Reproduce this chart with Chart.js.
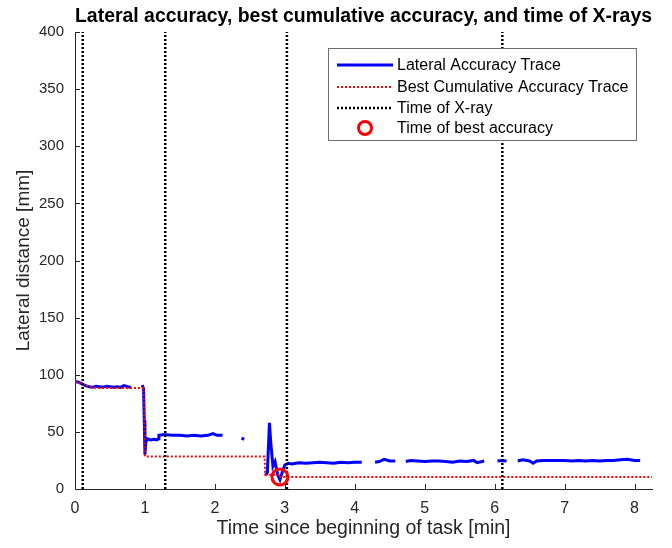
<!DOCTYPE html>
<html>
<head>
<meta charset="utf-8">
<title>Lateral accuracy</title>
<script src="https://cdn.jsdelivr.net/npm/chart.js@4.4.1/dist/chart.umd.min.js"></script>
<style>
    html, body { margin: 0; padding: 0; background: #fff; }
    #wrap { width: 672px; height: 548px; }
</style>
</head>
<body>
<div id="wrap"><canvas id="accChart" width="672" height="548"></canvas></div>
<script>
// Lateral accuracy trace (null = no data / gap)
const traceT = [
    0, 0.05, 0.1, 0.15, 0.2, 0.25, 0.3, 0.35, 0.4, 0.45, 0.5, 0.55, 0.6, 0.65, 0.7, 0.75, 0.8, 0.88,
    0.96, 0.98, 0.99, 1.0, 1.01, 1.03, 1.08, 1.13, 1.17, 1.19, 1.2, 1.25, 1.3, 1.4, 1.5, 1.6, 1.7, 1.8, 1.9, 1.97, 2.03, 2.11, 2.2,
    2.38, 2.42, 2.5,
    2.72, 2.75, 2.78, 2.8, 2.83, 2.86, 2.88, 2.9, 2.93, 2.96, 3.0, 3.05, 3.1, 3.2, 3.3, 3.4, 3.5, 3.6, 3.7, 3.8, 3.9, 4.0, 4.1, 4.2,
    4.29, 4.35, 4.42, 4.5, 4.58, 4.65,
    4.73, 4.8, 4.9, 5.0, 5.1, 5.2, 5.3, 5.4, 5.5, 5.6, 5.7, 5.75, 5.85, 5.95,
    6.04, 6.1, 6.17, 6.25,
    6.33, 6.4, 6.5, 6.55, 6.6, 6.7, 6.8, 6.9, 7.0, 7.1, 7.2, 7.3, 7.4, 7.5, 7.6, 7.7, 7.8, 7.9, 8.0, 8.08
];
const traceY = [
    94, 93.5, 92, 90.5, 89.5, 89, 90, 89.5, 89, 90, 89.5, 89, 89.5, 89, 90.5, 89.5, 89, null,
    91, 88, 60, 30, 40, 44, 43, 43.5, 43, 44, 47, 47.5, 47.5, 47, 47, 46.5, 47, 46.5, 47, 48.5, 47, 47, null,
    44.5, 43.5, null,
    12, 14, 58, 40, 20, 24, 18, 12, 8, 14, 21, 22.5, 22, 23, 22.5, 23, 23.5, 23, 22.5, 23.5, 23, 23.5, 23.5, null,
    23.5, 24, 26, 24.5, 24.5, null,
    24, 25, 24.5, 24, 24.5, 24.5, 24, 23.5, 24.5, 24, 25, 23, 24.5, null,
    24.5, 25, 24.5, null,
    24.5, 25.5, 24.5, 22.5, 24.5, 25, 25, 25, 25, 24.5, 25, 24.5, 25, 24.5, 25, 25, 25.5, 26, 25, 25
];

// Best cumulative accuracy (step-like trace)
const bestT = [0, 0.1, 0.2, 0.3, 0.98, 1.0, 2.71, 2.72, 2.93, 2.935, 8.25];
const bestY = [94, 92, 89.5, 88.5, 88.5, 28.5, 28.5, 12.5, 12.5, 10.5, 10.5];

// Time of X-rays [min]
const xrayT = [0.11, 1.29, 3.03, 6.11];

// Time of best accuracy
const bestPointT = [2.93];
const bestPointY = [10.5];

const yTicks = [0, 50, 100, 150, 200, 250, 300, 350, 400];
const xTicks = [0, 1, 2, 3, 4, 5, 6, 7, 8];

const FONT = "'Liberation Sans', Arial, sans-serif";
const AXIS_COLOR = '#262626';

function toPoints(xs, ys) {
    return xs.map(function (x, i) { return { x: x, y: ys[i] }; });
}

// datasets
const datasets = [];
datasets.push({
    label: 'Lateral Accuracy Trace',
    data: toPoints(traceT, traceY),
    showLine: true,
    borderColor: '#0000ff',
    borderWidth: 3,
    pointRadius: 0,
    spanGaps: false,
    order: 5
});
datasets.push({
    label: 'Best Cumulative Accuracy Trace',
    data: toPoints(bestT, bestY),
    showLine: true,
    borderColor: '#ff0000',
    borderWidth: 2,
    borderDash: [2, 2],
    pointRadius: 0,
    order: 4
});
xrayT.forEach(function (t, i) {
    datasets.push({
        label: i === 0 ? 'Time of X-ray' : '',
        data: [{ x: t, y: yTicks[0] }, { x: t, y: yTicks[yTicks.length - 1] }],
        showLine: true,
        borderColor: '#000000',
        borderWidth: 2.5,
        borderDash: [2, 2],
        pointRadius: 0,
        order: 3
    });
});
datasets.push({
    label: 'Time of best accuracy',
    data: toPoints(bestPointT, bestPointY),
    showLine: false,
    pointStyle: 'circle',
    pointRadius: 8,
    pointBorderWidth: 3,
    pointBorderColor: '#ff0000',
    pointBackgroundColor: 'rgba(0,0,0,0)',
    order: 1
});

// inward tick marks like the original
const innerTicks = {
    id: 'innerTicks',
    afterDatasetsDraw(chart) {
        const ctx = chart.ctx;
        const xs = chart.scales.x, ys = chart.scales.y;
        const a = chart.chartArea;
        ctx.save();
        ctx.strokeStyle = AXIS_COLOR;
        ctx.lineWidth = 1;
        ctx.beginPath();
        xTicks.forEach(function (v) {
            const px = Math.round(xs.getPixelForValue(v)) + 0.5;
            ctx.moveTo(px, a.bottom);
            ctx.lineTo(px, a.bottom - 5);
        });
        yTicks.forEach(function (v) {
            const py = Math.round(ys.getPixelForValue(v)) + 0.5;
            ctx.moveTo(a.left, py);
            ctx.lineTo(a.left + 5, py);
        });
        ctx.stroke();
        ctx.restore();
    }
};

// legend box drawn inside the plot, top right
const legendBox = {
    id: 'legendBox',
    afterDraw(chart) {
        const ctx = chart.ctx;
        const bx = 328, by = 48, bw = 308, bh = 92;
        const rows = [65, 87, 108, 128];
        const entries = [datasets[0], datasets[1], datasets[2], datasets[datasets.length - 1]];
        ctx.save();
        ctx.fillStyle = '#ffffff';
        ctx.fillRect(bx, by, bw, bh);
        ctx.strokeStyle = '#6e6e6e';
        ctx.lineWidth = 1;
        ctx.strokeRect(bx + 0.5, by + 0.5, bw, bh);
        ctx.font = '16px ' + FONT;
        ctx.textBaseline = 'middle';
        entries.forEach(function (ds, i) {
            const y = rows[i];
            if (ds.showLine) {
                ctx.save();
                ctx.strokeStyle = ds.borderColor;
                ctx.lineWidth = ds.borderWidth;
                ctx.setLineDash(ds.borderDash || []);
                ctx.beginPath();
                ctx.moveTo(337, y);
                ctx.lineTo(393, y);
                ctx.stroke();
                ctx.restore();
            } else {
                ctx.save();
                ctx.strokeStyle = ds.pointBorderColor;
                ctx.lineWidth = ds.pointBorderWidth;
                ctx.beginPath();
                ctx.arc(365, y, 6.5, 0, Math.PI * 2);
                ctx.stroke();
                ctx.restore();
            }
            ctx.fillStyle = '#000000';
            ctx.fillText(ds.label, 397, y + 1);
        });
        ctx.restore();
    }
};

const ctx = document.getElementById('accChart').getContext('2d');
const accChart = new Chart(ctx, {
    type: 'scatter',
    data: { datasets: datasets },
    options: {
        responsive: false,
        animation: false,
        layout: { padding: { left: 0, right: 20, top: 0, bottom: 0 } },
        plugins: {
            legend: { display: false },
            tooltip: { enabled: false },
            title: {
                display: true,
                fullSize: false,
                text: 'Lateral accuracy, best cumulative accuracy, and time of X-rays',
                color: '#000000',
                font: { family: FONT, size: 20, weight: 'bold' },
                padding: { top: 4, bottom: 4 }
            }
        },
        scales: {
            x: {
                type: 'linear',
                min: 0,
                max: 8.25,
                afterBuildTicks: function (scale) {
                    scale.ticks = xTicks.map(function (v) { return { value: v }; });
                },
                afterFit: function (scale) { scale.height = 59; },
                grid: { display: false },
                border: { display: true, color: AXIS_COLOR, width: 1 },
                ticks: {
                    color: AXIS_COLOR,
                    padding: 2,
                    maxRotation: 0,
                    font: { family: FONT, size: 16 }
                },
                title: {
                    display: true,
                    text: 'Time since beginning of task [min]',
                    color: AXIS_COLOR,
                    font: { family: FONT, size: 19.5 },
                    padding: { top: 0, bottom: 8 }
                }
            },
            y: {
                type: 'linear',
                min: 0,
                max: 400,
                afterBuildTicks: function (scale) {
                    scale.ticks = yTicks.map(function (v) { return { value: v }; });
                },
                afterFit: function (scale) { scale.width = 75; },
                grid: { display: false },
                border: { display: true, color: AXIS_COLOR, width: 1 },
                ticks: {
                    color: AXIS_COLOR,
                    padding: 3,
                    font: { family: FONT, size: 15 }
                },
                title: {
                    display: true,
                    text: 'Lateral distance [mm]',
                    color: AXIS_COLOR,
                    font: { family: FONT, size: 19 },
                    padding: { top: 12, bottom: 0 }
                }
            }
        }
    },
    plugins: [innerTicks, legendBox]
});
</script>
</body>
</html>
